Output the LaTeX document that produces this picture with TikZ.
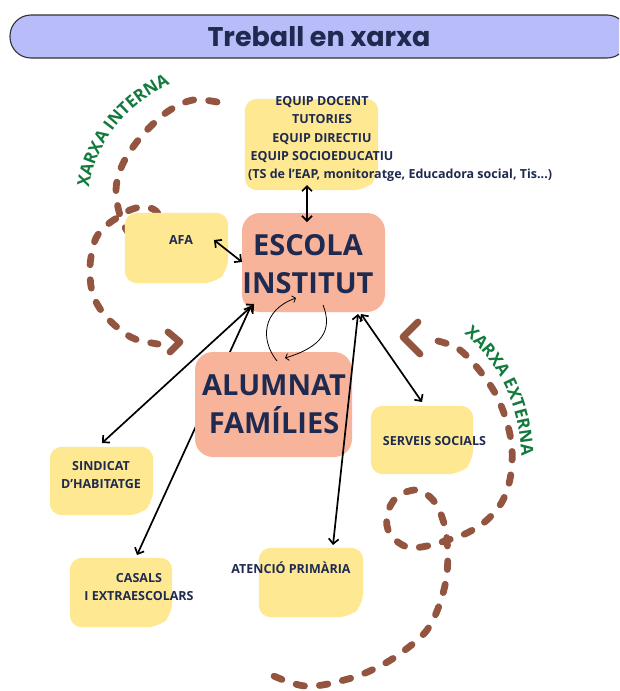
\documentclass[tikz,border=0pt]{standalone}
\usepackage{fontspec}
\setmainfont{Open Sans}
\newfontfamily\titlefont{Poppins}
\usetikzlibrary{arrows.meta,decorations.text}
\definecolor{navy}{HTML}{1F2A50}
\definecolor{yel}{HTML}{FEE992}
\definecolor{salmon}{HTML}{F8B39B}
\definecolor{brownd}{HTML}{935540}
\definecolor{grn}{HTML}{117A3C}
\definecolor{titlebg}{HTML}{B8BCF8}
\begin{document}
\begin{tikzpicture}[x=1pt,y=-1pt,
  note/.style={rectangle, draw=none, fill=none, inner sep=0pt},
  bigbox/.style={rectangle, fill=salmon, draw=none, rounded corners=18pt, inner sep=0pt},
  lab/.style={font=\fontsize{12.5}{18.3}\selectfont\bfseries, text=navy, align=center, inner sep=0pt},
  biglab/.style={font=\fontsize{29}{38}\selectfont\bfseries, text=navy, align=center, inner sep=0pt},
  tipb/.tip={Straight Barb[length=5pt,width=10pt]},
  conn/.style={line width=1.7pt, tipb-tipb},
  thinarr/.style={line width=0.8pt, -{Straight Barb[length=3pt,width=7pt]}},
  dashy/.style={draw=brownd, line width=6.8pt, line cap=round, line join=round, dash pattern=on 8.5pt off 15pt},
  chev/.style={draw=brownd, line width=6.8pt, line cap=round, line join=round},
  greentext/.style={decorate, decoration={text along path, text align=left, text color=grn,
    text={|\fontsize{17}{17}\selectfont\bfseries|#1}}}
]
\clip (0,0) rectangle (619,691);
\fill[white] (0,0) rectangle (619,691);

% title
\node[rectangle, rounded corners=21pt, fill=titlebg, draw=black!80, line width=1.1pt,
  minimum width=618pt, minimum height=43pt, inner sep=0pt,
  font=\titlefont\bfseries\fontsize{27}{27}\selectfont, text=navy] (title) at (319,36.5) {Treball en xarxa};

% dashed curves
\draw[dashy] plot[smooth, tension=0.6] coordinates {(217,102) (193,100) (170,110) (150,127) (133,147) (121,168) (116,190) (120,215) (130,235) (145,245) (158,240) (163,226) (156,211) (143,207) (130,210) (120,216) (107,225) (96,238) (91,257) (90,275) (93,295) (103,313) (118,328) (135,339) (158,344)};
\draw[chev] (168,332) -- (180,342) -- (170,352);
\draw[dashy] plot[smooth, tension=0.6] coordinates {(438,341) (460,350) (483,375) (500,403) (511,440) (511,473) (503,500) (487,520) (467,533) (448,540) (427,546) (407,547) (390,534) (387,515) (397,497) (417,490) (433,500) (442,517) (447,540) (447,573) (440,603) (427,630) (405,650) (380,666) (348,679) (305,686) (265,672)};
\draw[chev] (418,322) -- (403,337) -- (420,354);

% green labels
\path[greentext={XARXA INTERNA}] (89,188) .. controls (95,145) and (125,100) .. (185,78);
\path[greentext={XARXA EXTERNA}] (464,334) .. controls (495,360) and (522,400) .. (522,470);

% yellow boxes
\node[note, minimum width=133pt, minimum height=91pt] (eq) at (311.5,144.5) {};
\node[note, minimum width=103pt, minimum height=70pt] (afa) at (176.5,248) {};
\node[note, minimum width=102pt, minimum height=68pt] (ss) at (422,440) {};
\node[note, minimum width=103pt, minimum height=68pt] (sind) at (101.5,481) {};
\node[note, minimum width=102pt, minimum height=69pt] (cas) at (121,592.5) {};
\node[note, minimum width=104pt, minimum height=69pt] (ap) at (311,582.5) {};
\foreach \n in {eq,afa,ss,sind,cas,ap}
  \fill[yel, rounded corners=12pt] (\n.north west) -- (\n.north east) -- ([yshift=13pt]\n.south east)
    -- ([xshift=-13pt]\n.south east) -- (\n.south west) -- cycle;
\node[bigbox, minimum width=143pt, minimum height=99pt] (esc) at (313.5,262.5) {};

% connector passing under the ALUMNAT box
\draw[conn] ([shift={(-62.5,43.5)}]esc.center) -- ([shift={(16,-37.5)}]cas.center);
\node[bigbox, minimum width=157pt, minimum height=105pt] (alu) at (273.5,404.5) {};

% connectors
\draw[conn] ([shift={(-4.5,40.5)}]eq.center) -- ([shift={(-6.5,-40.5)}]esc.center);
\draw[conn] ([shift={(37.5,-8)}]afa.center) -- ([shift={(-71.5,-0.5)}]esc.center);
\draw[conn] ([shift={(-59.5,41.5)}]esc.center) -- ([shift={(0.5,-38)}]sind.center);
\draw[conn] ([shift={(44.5,51.5)}]esc.center) -- ([shift={(22,-37.5)}]ap.center);
\draw[conn] ([shift={(47.5,51.5)}]esc.center) -- ([shift={(0,-38)}]ss.center);
\draw[thinarr] ([shift={(3.5,-43.5)}]alu.center) .. controls (260,340) and (262,310) .. ([shift={(-17.5,35.5)}]esc.center);
\draw[thinarr] ([shift={(9.5,42.5)}]esc.center) .. controls (333,330) and (322,347) .. ([shift={(11.5,-46.5)}]alu.center);

% texts
\node[lab] (eqt) at (322,129.5) {EQUIP DOCENT\\TUTORIES\\EQUIP DIRECTIU\\EQUIP SOCIOEDUCATIU};
\node[lab, anchor=west] (eqt2) at (248,175) {(TS de l’EAP, monitoratge, Educadora social, Tis...)};
\node[lab] (afat) at (181,240) {AFA};
\node[biglab] (esct) at (308,264) {ESCOLA\\INSTITUT};
\node[biglab] (alut) at (274,404) {ALUMNAT\\FAMÍLIES};
\node[lab] (sst) at (434.5,441) {SERVEIS SOCIALS};
\node[lab] (sindt) at (101,475) {SINDICAT\\D’HABITATGE};
\node[lab] (cast) at (139,587) {CASALS\\I EXTRAESCOLARS};
\node[lab] (apt) at (291,568) {ATENCIÓ PRIMÀRIA};
\end{tikzpicture}
\end{document}
